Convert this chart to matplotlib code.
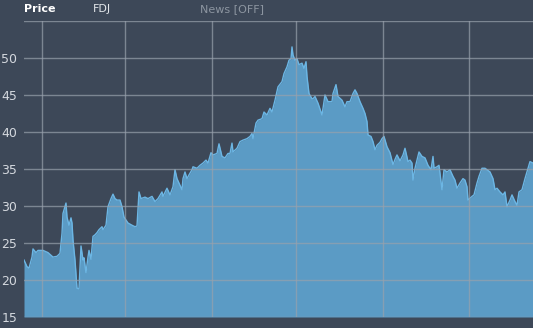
import matplotlib.pyplot as plt

# trading day index (from start of window) and closing price
day = [0, 3, 5, 8, 9, 12, 14, 19, 24, 29, 33, 36, 38, 39, 42, 43, 45, 47, 48, 49,
       51, 53, 55, 56, 57, 59, 60, 62, 64, 65, 67, 69, 71, 73, 75, 78, 79, 82, 84, 87,
       89, 91, 93, 96, 98, 100, 103, 104, 108, 111, 113, 115, 117, 121, 124, 128, 131, 134, 138, 139,
       143, 146, 149, 151, 153, 156, 158, 159, 161, 163, 165, 168, 169, 173, 176, 179, 182, 184, 187, 189,
       193, 195, 198, 201, 204, 206, 208, 209, 213, 216, 219, 223, 226, 228, 229, 232, 234, 238, 240, 243,
       246, 248, 251, 254, 258, 260, 263, 265, 267, 268, 269, 271, 273, 275, 278, 280, 282, 283, 285, 288,
       289, 291, 294, 297, 298, 301, 304, 308, 309, 312, 314, 318, 321, 323, 326, 329, 331, 333, 336, 339,
       341, 343, 344, 347, 349, 351, 353, 356, 358, 360, 363, 366, 369, 371, 373, 376, 379, 381, 384, 386,
       388, 389, 391, 395, 398, 401, 404, 407, 409, 410, 413, 415, 418, 420, 423, 426, 429, 431, 433, 436,
       439, 441, 443, 444, 448, 450, 453, 455, 458, 461, 463, 466, 469, 471, 473, 476, 479, 481, 483, 486,
       488, 491, 493, 495, 498, 501, 503, 506, 509]
price = [22.7, 21.8, 21.6, 23.1, 24.2, 23.7, 24.0, 24.0, 23.7, 23.1, 23.2, 23.6, 26.3, 29.0, 30.4, 28.5, 27.4, 28.4, 27.7, 25.4,
         22.7, 18.9, 18.8, 21.8, 24.6, 22.7, 23.0, 21.0, 23.1, 24.0, 22.8, 25.9, 26.1, 26.4, 26.8, 27.2, 26.8, 27.4, 29.9, 31.0,
         31.6, 31.0, 30.8, 30.8, 29.9, 28.5, 27.9, 27.7, 27.4, 27.2, 27.3, 31.9, 31.0, 31.2, 31.0, 31.3, 30.6, 31.0, 31.9, 31.3,
         32.4, 31.5, 32.6, 34.9, 33.7, 32.8, 32.2, 33.7, 34.6, 33.7, 34.2, 34.9, 35.3, 35.1, 35.5, 35.8, 36.2, 35.8, 37.2, 36.9,
         37.1, 38.4, 36.7, 36.5, 37.1, 37.1, 38.5, 37.3, 37.8, 38.7, 38.9, 39.1, 39.4, 39.8, 39.1, 41.2, 41.6, 41.8, 42.7, 42.3,
         43.2, 42.7, 44.3, 46.1, 46.8, 47.9, 48.8, 49.7, 49.9, 51.5, 50.4, 49.7, 49.9, 49.1, 49.3, 48.6, 49.5, 47.5, 45.2, 44.5,
         44.5, 44.8, 43.9, 42.7, 42.3, 45.0, 44.1, 44.1, 45.2, 46.4, 44.8, 44.3, 43.4, 44.1, 44.1, 45.2, 45.7, 45.2, 44.1, 43.2,
         42.5, 41.4, 39.6, 39.4, 38.7, 37.6, 38.2, 38.6, 39.1, 39.4, 38.0, 37.2, 35.6, 36.3, 36.9, 36.1, 36.9, 37.8, 36.0, 36.2,
         35.8, 33.5, 35.1, 37.3, 36.7, 36.5, 35.5, 34.9, 36.7, 35.1, 35.3, 35.5, 32.2, 34.9, 34.6, 34.9, 34.0, 33.5, 32.4, 33.1,
         33.7, 33.5, 32.6, 30.8, 31.3, 31.5, 33.1, 34.0, 35.1, 35.1, 34.9, 34.6, 33.7, 32.2, 32.4, 31.9, 31.5, 31.9, 29.9, 30.8,
         31.5, 30.6, 30.1, 31.9, 32.2, 33.7, 34.6, 36.0, 35.8]
period_marks = [18, 101, 188, 272, 359, 445]
levels = [15, 20, 25, 30, 35, 40, 45, 50, 55]
labels = ['15', '20', '25', '30', '35', '40', '45', '50', '']

bg = '#3d4858'
grid = '#98a1ac'

fig = plt.figure(figsize=(5.33, 3.28), dpi=100, facecolor=bg)
ax = fig.add_axes([24 / 533, 11 / 328, 509 / 533, 296 / 328])
ax.set_facecolor(bg)

ax.fill_between(day, price, 15, color='#5b9bc5', lw=0, zorder=1)
ax.plot(day, price, color='#6cb6e4', lw=1, zorder=2)

for y in levels:
    ax.axhline(y, color=grid, lw=1, alpha=0.7, zorder=3)
for x in period_marks:
    ax.axvline(x, color=grid, lw=1, alpha=0.7, zorder=3)

ax.set_xlim(0, 509)
ax.set_ylim(15, 55)
ax.set_xticks([])
ax.set_yticks(levels)
ax.set_yticklabels(labels)
ax.tick_params(axis='y', length=0, pad=5, labelsize=9, labelcolor='#d4d8de')
for s in ax.spines.values():
    s.set_visible(False)

fig.text(24 / 533, 1 - 9 / 328, 'Price', color='white', fontsize=8, fontweight='bold', va='center')
fig.text(93 / 533, 1 - 9 / 328, 'FDJ', color='#e2e6ea', fontsize=8, va='center')
fig.text(200 / 533, 1 - 9 / 328, 'News [OFF]', color='#8c95a0', fontsize=8, va='center')

fig.savefig('out.png', dpi=100, facecolor=bg)
